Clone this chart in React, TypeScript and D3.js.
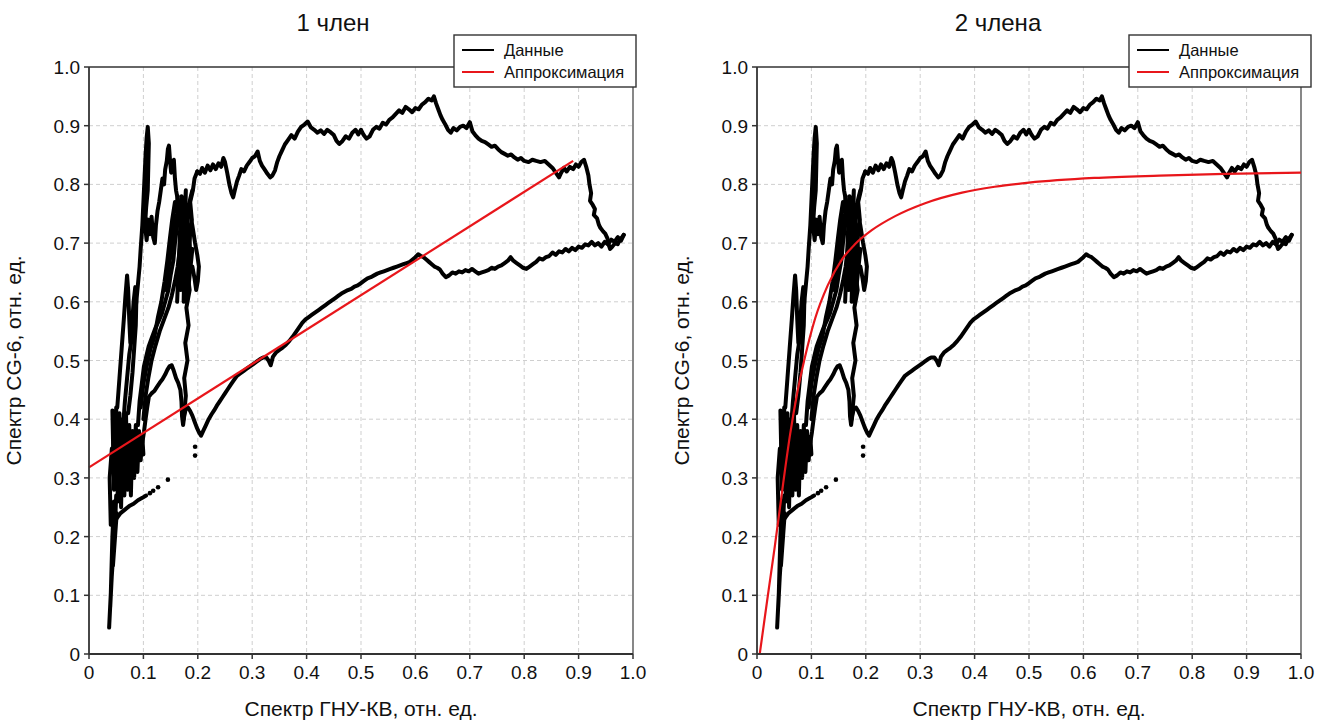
import React from "react";
import * as d3 from "d3";

type Pt = [number, number];

// Axis ticks and labels
const xTicks = [0, 0.1, 0.2, 0.3, 0.4, 0.5, 0.6, 0.7, 0.8, 0.9, 1.0];
const yTicks = [0, 0.1, 0.2, 0.3, 0.4, 0.5, 0.6, 0.7, 0.8, 0.9, 1.0];
const tickLabel = (v: number) => (v === 0 ? "0" : v.toFixed(1));

const panelTitles = ["1 член", "2 члена"];
const xAxisTitle = "Спектр ГНУ-КВ, отн. ед.";
const yAxisTitle = "Спектр CG-6, отн. ед.";
const legendLabels = ["Данные", "Аппроксимация"];

// Measured trajectory: CG-6 spectrum vs GNU-KV spectrum (relative units)
const riseStrand: Pt[] = [
  [0.174, 0.40], [0.178, 0.44], [0.175, 0.47], [0.181, 0.50], [0.177, 0.53], [0.183, 0.56],
  [0.179, 0.59], [0.185, 0.62], [0.181, 0.65], [0.187, 0.68], [0.183, 0.71], [0.189, 0.74],
  [0.186, 0.77], [0.191, 0.79], [0.194, 0.81], [0.199, 0.822],
];

const upperArc: Pt[] = [
  [0.199, 0.822], [0.204, 0.818], [0.208, 0.828], [0.213, 0.82], [0.218, 0.832], [0.223, 0.824],
  [0.228, 0.834], [0.233, 0.826], [0.238, 0.836], [0.243, 0.83], [0.247, 0.845], [0.25, 0.838],
  [0.254, 0.82], [0.258, 0.8], [0.262, 0.785], [0.265, 0.778], [0.268, 0.79], [0.272, 0.805],
  [0.276, 0.815], [0.28, 0.826], [0.285, 0.822], [0.29, 0.832], [0.295, 0.838], [0.3, 0.845],
  [0.305, 0.848], [0.31, 0.856], [0.314, 0.84], [0.318, 0.832], [0.323, 0.825], [0.328, 0.818],
  [0.333, 0.812], [0.337, 0.815], [0.342, 0.824], [0.346, 0.838], [0.35, 0.848], [0.355, 0.858],
  [0.36, 0.868], [0.366, 0.876], [0.372, 0.884], [0.378, 0.878], [0.384, 0.89], [0.39, 0.898],
  [0.396, 0.902], [0.402, 0.907], [0.408, 0.897], [0.414, 0.893], [0.42, 0.888], [0.426, 0.892],
  [0.432, 0.886], [0.438, 0.893], [0.444, 0.889], [0.45, 0.884], [0.455, 0.874], [0.46, 0.869],
  [0.466, 0.874], [0.472, 0.882], [0.478, 0.878], [0.484, 0.888], [0.49, 0.893], [0.495, 0.885],
  [0.5, 0.893], [0.505, 0.884], [0.51, 0.878], [0.516, 0.882], [0.522, 0.893], [0.528, 0.898],
  [0.534, 0.895], [0.54, 0.905], [0.546, 0.902], [0.552, 0.91], [0.558, 0.914], [0.564, 0.92],
  [0.57, 0.926], [0.576, 0.922], [0.582, 0.932], [0.588, 0.928], [0.594, 0.923], [0.6, 0.93],
  [0.606, 0.928], [0.612, 0.936], [0.618, 0.94], [0.624, 0.946], [0.63, 0.943], [0.634, 0.95],
  [0.638, 0.938], [0.642, 0.928], [0.646, 0.918], [0.65, 0.91], [0.655, 0.902], [0.66, 0.893],
  [0.665, 0.888], [0.67, 0.896], [0.676, 0.892], [0.682, 0.898], [0.688, 0.9], [0.694, 0.896],
  [0.7, 0.906], [0.705, 0.89], [0.71, 0.884], [0.716, 0.878], [0.722, 0.874], [0.728, 0.872],
  [0.734, 0.868], [0.74, 0.864], [0.746, 0.866], [0.752, 0.86], [0.758, 0.855], [0.764, 0.852],
  [0.77, 0.849], [0.776, 0.851], [0.782, 0.846], [0.788, 0.842], [0.794, 0.845], [0.8, 0.84],
  [0.808, 0.838], [0.815, 0.842], [0.822, 0.84], [0.83, 0.838], [0.838, 0.84], [0.845, 0.834],
  [0.852, 0.828], [0.858, 0.82], [0.864, 0.812], [0.868, 0.82], [0.873, 0.828], [0.878, 0.822],
  [0.884, 0.83], [0.89, 0.826], [0.895, 0.834], [0.9, 0.83], [0.905, 0.838], [0.91, 0.842],
  [0.914, 0.83], [0.918, 0.815], [0.92, 0.8], [0.923, 0.785], [0.921, 0.772], [0.926, 0.765],
  [0.93, 0.758], [0.928, 0.748], [0.934, 0.742], [0.937, 0.732], [0.94, 0.726], [0.945, 0.72],
  [0.949, 0.716], [0.953, 0.708], [0.955, 0.698], [0.958, 0.69], [0.962, 0.694], [0.967, 0.7],
  [0.972, 0.698], [0.976, 0.706], [0.98, 0.71], [0.983, 0.714],
];

const returnArc: Pt[] = [
  [0.983, 0.714], [0.978, 0.704], [0.972, 0.71], [0.966, 0.702], [0.96, 0.706], [0.954, 0.698],
  [0.948, 0.702], [0.942, 0.694], [0.936, 0.7], [0.93, 0.696], [0.924, 0.702], [0.918, 0.696],
  [0.912, 0.698], [0.906, 0.692], [0.9, 0.694], [0.894, 0.688], [0.888, 0.692], [0.882, 0.686],
  [0.876, 0.69], [0.87, 0.684], [0.864, 0.686], [0.858, 0.68], [0.852, 0.684], [0.846, 0.678],
  [0.84, 0.676], [0.834, 0.672], [0.828, 0.674], [0.822, 0.668], [0.816, 0.664], [0.81, 0.66],
  [0.804, 0.656], [0.798, 0.658], [0.792, 0.662], [0.786, 0.666], [0.78, 0.67], [0.775, 0.676],
  [0.77, 0.67], [0.764, 0.666], [0.758, 0.662], [0.752, 0.66], [0.746, 0.656], [0.74, 0.658],
  [0.734, 0.654], [0.728, 0.652], [0.722, 0.65], [0.716, 0.648], [0.71, 0.652], [0.704, 0.656],
  [0.698, 0.652], [0.692, 0.654], [0.686, 0.65], [0.68, 0.652], [0.674, 0.648], [0.668, 0.65],
  [0.662, 0.645], [0.656, 0.642], [0.65, 0.648], [0.645, 0.655], [0.64, 0.658], [0.635, 0.66],
  [0.63, 0.664], [0.625, 0.668], [0.62, 0.672], [0.615, 0.676], [0.61, 0.678], [0.605, 0.681],
  [0.6, 0.676], [0.595, 0.672], [0.59, 0.668], [0.584, 0.666], [0.578, 0.664], [0.572, 0.662],
  [0.566, 0.66], [0.56, 0.658], [0.554, 0.656], [0.548, 0.654], [0.542, 0.652], [0.536, 0.65],
  [0.53, 0.648], [0.524, 0.645], [0.518, 0.642], [0.512, 0.64], [0.506, 0.636], [0.5, 0.632],
  [0.494, 0.628], [0.488, 0.626], [0.482, 0.622], [0.476, 0.62], [0.47, 0.617], [0.464, 0.614],
  [0.458, 0.61], [0.452, 0.606], [0.446, 0.602], [0.44, 0.598], [0.434, 0.594], [0.428, 0.59],
  [0.422, 0.586], [0.416, 0.582], [0.41, 0.578], [0.404, 0.574], [0.398, 0.57], [0.392, 0.564],
  [0.386, 0.556], [0.38, 0.548], [0.374, 0.54], [0.368, 0.533], [0.362, 0.527], [0.356, 0.522],
  [0.35, 0.518], [0.344, 0.514], [0.338, 0.506], [0.334, 0.492], [0.33, 0.5], [0.326, 0.505],
  [0.32, 0.505], [0.314, 0.502], [0.308, 0.498], [0.302, 0.494], [0.296, 0.49], [0.29, 0.486],
  [0.284, 0.482], [0.278, 0.478], [0.272, 0.474], [0.266, 0.466], [0.26, 0.458], [0.255, 0.451],
  [0.25, 0.444], [0.245, 0.437], [0.24, 0.43], [0.235, 0.423], [0.23, 0.415], [0.225, 0.408],
  [0.22, 0.4], [0.215, 0.39], [0.21, 0.38], [0.206, 0.372], [0.202, 0.378], [0.198, 0.386],
  [0.194, 0.396], [0.19, 0.406], [0.186, 0.414], [0.182, 0.42], [0.178, 0.418], [0.175, 0.405],
  [0.173, 0.39], [0.171, 0.405], [0.17, 0.43], [0.168, 0.45], [0.164, 0.462], [0.16, 0.47],
  [0.156, 0.482], [0.152, 0.492], [0.148, 0.49], [0.144, 0.484], [0.14, 0.476], [0.135, 0.468],
  [0.13, 0.462], [0.125, 0.455], [0.12, 0.448], [0.115, 0.444], [0.11, 0.438], [0.107, 0.42],
  [0.104, 0.4], [0.101, 0.378], [0.098, 0.36],
];

const denseCluster: Pt[] = [
  [0.043, 0.415], [0.046, 0.28], [0.05, 0.42], [0.053, 0.26], [0.056, 0.41], [0.059, 0.25],
  [0.062, 0.4], [0.065, 0.27], [0.068, 0.41], [0.071, 0.28], [0.074, 0.39], [0.077, 0.27],
  [0.08, 0.38], [0.083, 0.3], [0.086, 0.39], [0.089, 0.31], [0.092, 0.38], [0.095, 0.33],
  [0.098, 0.37], [0.1, 0.34],
];

const clusterInner: Pt[] = [
  [0.045, 0.36], [0.048, 0.3], [0.052, 0.38], [0.056, 0.31], [0.06, 0.37], [0.064, 0.32],
  [0.068, 0.36], [0.072, 0.3], [0.076, 0.35], [0.08, 0.32], [0.085, 0.36], [0.09, 0.34],
];

const lowerStem: Pt[] = [
  [0.05, 0.27], [0.047, 0.2], [0.051, 0.24], [0.044, 0.15], [0.048, 0.22], [0.041, 0.12],
  [0.045, 0.19], [0.039, 0.08], [0.042, 0.14], [0.037, 0.045], [0.04, 0.1], [0.043, 0.2],
  [0.046, 0.26], [0.04, 0.22], [0.038, 0.3], [0.042, 0.35],
];

const tailStrand: Pt[] = [
  [0.05, 0.23], [0.058, 0.24], [0.066, 0.246], [0.074, 0.252], [0.082, 0.256], [0.09, 0.262],
  [0.098, 0.266], [0.105, 0.27],
];

const isolatedPoints: Pt[] = [
  [0.112, 0.274], [0.118, 0.278], [0.127, 0.284], [0.145, 0.297], [0.195, 0.353], [0.195, 0.338],
];

const tallSpike: Pt[] = [
  [0.058, 0.33], [0.062, 0.38], [0.066, 0.43], [0.07, 0.47], [0.074, 0.51], [0.079, 0.54],
  [0.083, 0.57], [0.087, 0.6], [0.09, 0.63], [0.093, 0.66], [0.095, 0.69], [0.098, 0.73],
  [0.1, 0.77], [0.102, 0.81], [0.104, 0.85], [0.106, 0.88], [0.108, 0.898], [0.11, 0.87],
  [0.109, 0.83], [0.108, 0.79], [0.105, 0.76], [0.103, 0.73], [0.106, 0.705], [0.109, 0.74],
  [0.112, 0.715], [0.115, 0.745], [0.118, 0.71], [0.121, 0.7], [0.123, 0.73], [0.126, 0.755],
  [0.129, 0.77], [0.132, 0.79], [0.135, 0.81], [0.138, 0.8], [0.14, 0.825], [0.143, 0.84],
  [0.145, 0.86], [0.147, 0.866], [0.149, 0.84], [0.151, 0.82], [0.154, 0.835], [0.156, 0.842],
  [0.158, 0.81], [0.16, 0.79], [0.163, 0.775], [0.166, 0.765], [0.17, 0.772], [0.174, 0.776],
  [0.178, 0.765], [0.182, 0.755], [0.186, 0.775], [0.19, 0.79],
];

const lowSpike: Pt[] = [
  [0.052, 0.42], [0.056, 0.47], [0.06, 0.52], [0.064, 0.57], [0.067, 0.61], [0.07, 0.645],
  [0.072, 0.62], [0.074, 0.57], [0.076, 0.53], [0.079, 0.56], [0.082, 0.6], [0.085, 0.625],
  [0.087, 0.6], [0.086, 0.56], [0.083, 0.52], [0.08, 0.48], [0.076, 0.44], [0.072, 0.41],
];

const midStrandA: Pt[] = [
  [0.09, 0.39], [0.093, 0.43], [0.097, 0.46], [0.101, 0.49], [0.106, 0.51], [0.11, 0.525],
  [0.116, 0.54], [0.122, 0.555], [0.128, 0.567], [0.134, 0.58], [0.14, 0.6], [0.146, 0.62],
  [0.15, 0.645], [0.155, 0.67], [0.158, 0.7], [0.162, 0.73], [0.166, 0.76],
];

const midStrandB: Pt[] = [
  [0.1, 0.4], [0.104, 0.44], [0.109, 0.47], [0.115, 0.5], [0.122, 0.525], [0.13, 0.55],
  [0.138, 0.57], [0.146, 0.59], [0.152, 0.61], [0.158, 0.635], [0.163, 0.66], [0.167, 0.69],
  [0.171, 0.72], [0.174, 0.75], [0.177, 0.77],
];

const midStrandC: Pt[] = [
  [0.165, 0.77], [0.168, 0.74], [0.172, 0.71], [0.176, 0.68], [0.18, 0.66], [0.185, 0.65],
  [0.19, 0.66], [0.194, 0.64], [0.197, 0.62], [0.2, 0.635], [0.202, 0.66], [0.199, 0.68],
  [0.195, 0.7], [0.19, 0.73], [0.186, 0.75],
];

const midStrandD: Pt[] = [
  [0.14, 0.62], [0.145, 0.65], [0.15, 0.68], [0.155, 0.72], [0.16, 0.75], [0.163, 0.78],
];

const midStrandE: Pt[] = [
  [0.095, 0.42], [0.1, 0.46], [0.106, 0.49], [0.113, 0.52], [0.12, 0.54], [0.127, 0.575],
  [0.133, 0.6], [0.139, 0.635], [0.144, 0.67], [0.149, 0.71], [0.153, 0.74], [0.158, 0.77],
];

const denseUpper: Pt[] = [
  [0.162, 0.6], [0.17, 0.78], [0.168, 0.62], [0.178, 0.79], [0.174, 0.6], [0.182, 0.76],
  [0.176, 0.63], [0.186, 0.72], [0.18, 0.6], [0.19, 0.69], [0.184, 0.64],
];

const dataStrands: Pt[][] = [
  riseStrand, upperArc, returnArc, denseCluster, clusterInner, lowerStem, tailStrand,
  tallSpike, lowSpike, midStrandA, midStrandB, midStrandC, midStrandD, midStrandE, denseUpper,
];

// Approximations: one-term (straight line) and two-term (saturating curve)
const fitOneTerm: Pt[] = [[0, 0.318], [0.89, 0.84]];
const fitTwoTerms: Pt[] = [
  [0.005, 0], [0.02, 0.1], [0.033, 0.185], [0.048, 0.29], [0.061, 0.375], [0.074, 0.445],
  [0.088, 0.505], [0.107, 0.572], [0.13, 0.628], [0.156, 0.672], [0.18, 0.698], [0.211, 0.722],
  [0.254, 0.746], [0.309, 0.768], [0.377, 0.786], [0.437, 0.796], [0.5, 0.803], [0.62, 0.811],
  [0.74, 0.815], [0.86, 0.818], [1.0, 0.82],
];

const FONT = "'Liberation Sans', Arial, Helvetica, sans-serif";
const TOP = 67;
const BOTTOM = 654;

interface PanelProps {
  left: number;
  right: number;
  titleX: number;
  legendX: number;
  title: string;
  fit: Pt[];
  curved: boolean;
}

function Panel({ left, right, titleX, legendX, title, fit, curved }: PanelProps) {
  const x = d3.scaleLinear().domain([0, 1]).range([left, right]);
  const y = d3.scaleLinear().domain([0, 1]).range([BOTTOM, TOP]);
  const line = d3
    .line<Pt>()
    .x((d) => x(d[0]))
    .y((d) => y(d[1]));
  const fitLine = d3
    .line<Pt>()
    .x((d) => x(d[0]))
    .y((d) => y(d[1]))
    .curve(curved ? d3.curveMonotoneX : d3.curveLinear);
  const midX = (left + right) / 2;
  const legendW = 182;

  return (
    <g>
      <text x={titleX} y={31} textAnchor="middle" fontSize={24} fontFamily={FONT} fill="#111">
        {title}
      </text>

      {/* grid */}
      {xTicks.slice(1, -1).map((t) => (
        <line key={"gx" + t} x1={x(t)} x2={x(t)} y1={TOP} y2={BOTTOM} stroke="#cfcfcf" strokeWidth={1} strokeDasharray="4,3" />
      ))}
      {yTicks.slice(1, -1).map((t) => (
        <line key={"gy" + t} x1={left} x2={right} y1={y(t)} y2={y(t)} stroke="#cfcfcf" strokeWidth={1} strokeDasharray="4,3" />
      ))}

      {/* frame */}
      <line x1={left} x2={right} y1={TOP} y2={TOP} stroke="#333" strokeWidth={1.6} />
      <line x1={right} x2={right} y1={TOP} y2={BOTTOM} stroke="#555" strokeWidth={1.4} />

      {/* data */}
      {dataStrands.map((s, i) => (
        <path key={"s" + i} d={line(s) || ""} fill="none" stroke="#000" strokeWidth={4} strokeLinejoin="round" strokeLinecap="round" />
      ))}
      {isolatedPoints.map((p, i) => (
        <circle key={"p" + i} cx={x(p[0])} cy={y(p[1])} r={2.3} fill="#000" />
      ))}

      {/* fit */}
      <path d={fitLine(fit) || ""} fill="none" stroke="#e8161b" strokeWidth={2.2} />

      {/* axes */}
      <line x1={left} x2={left} y1={TOP} y2={BOTTOM} stroke="#333" strokeWidth={1.8} />
      <line x1={left} x2={right} y1={BOTTOM} y2={BOTTOM} stroke="#333" strokeWidth={1.8} />
      {xTicks.map((t) => (
        <g key={"xt" + t}>
          <line x1={x(t)} x2={x(t)} y1={BOTTOM} y2={BOTTOM + 5} stroke="#333" strokeWidth={1.5} />
          <text x={x(t)} y={BOTTOM + 25} textAnchor="middle" fontSize={19} fontFamily={FONT} fill="#111">
            {tickLabel(t)}
          </text>
        </g>
      ))}
      {yTicks.map((t) => (
        <g key={"yt" + t}>
          <line x1={left - 5} x2={left} y1={y(t)} y2={y(t)} stroke="#333" strokeWidth={1.5} />
          <text x={left - 9} y={y(t) + 7} textAnchor="end" fontSize={19} fontFamily={FONT} fill="#111">
            {tickLabel(t)}
          </text>
        </g>
      ))}

      <text x={midX} y={716} textAnchor="middle" fontSize={21} fontFamily={FONT} fill="#111">
        {xAxisTitle}
      </text>
      <text
        transform={`translate(${left - 68},${(TOP + BOTTOM) / 2}) rotate(-90)`}
        textAnchor="middle"
        fontSize={21}
        fontFamily={FONT}
        fill="#111"
      >
        {yAxisTitle}
      </text>

      {/* legend */}
      <g transform={`translate(${legendX},35)`}>
        <rect x={0} y={0} width={legendW} height={52} fill="#fff" stroke="#333" strokeWidth={1.4} />
        <line x1={8} x2={40} y1={15} y2={15} stroke="#000" strokeWidth={2} />
        <text x={50} y={21} fontSize={16.5} fontFamily={FONT} fill="#111">
          {legendLabels[0]}
        </text>
        <line x1={8} x2={40} y1={37} y2={37} stroke="#e8161b" strokeWidth={2} />
        <text x={50} y={43} fontSize={16.5} fontFamily={FONT} fill="#111">
          {legendLabels[1]}
        </text>
      </g>
    </g>
  );
}

export default function App() {
  return (
    <svg
      width={1330}
      height={722}
      viewBox="0 0 1330 722"
      style={{ position: "absolute", left: 0, top: 0, display: "block", background: "#fff" }}
    >
      <rect x={0} y={0} width={1330} height={722} fill="#fff" />
      <Panel left={89} right={633} titleX={333} legendX={454} title={panelTitles[0]} fit={fitOneTerm} curved={false} />
      <Panel left={757} right={1301} titleX={998} legendX={1129} title={panelTitles[1]} fit={fitTwoTerms} curved={true} />
    </svg>
  );
}
